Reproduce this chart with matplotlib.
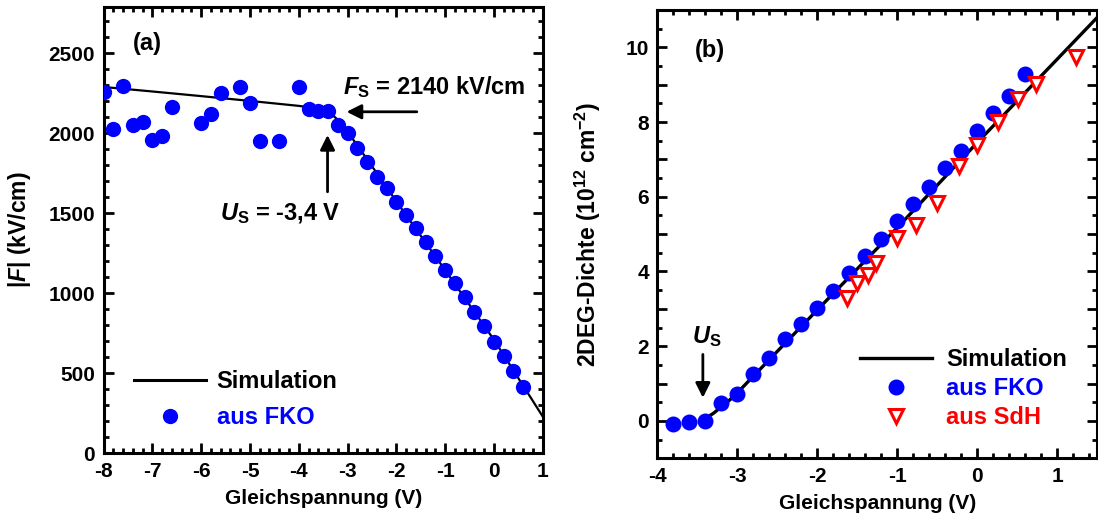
import matplotlib
matplotlib.use("Agg")
import matplotlib.pyplot as plt
from matplotlib.ticker import MultipleLocator, FuncFormatter
from matplotlib.lines import Line2D

plt.rcParams.update({
    "font.family": ["Liberation Sans", "DejaVu Sans"],
    "font.weight": "bold",
    "axes.labelweight": "bold",
    "axes.unicode_minus": False,
    "mathtext.fontset": "custom",
    "mathtext.rm": "Liberation Sans:bold",
    "mathtext.bf": "Liberation Sans:bold",
    "mathtext.it": "Liberation Sans:italic:bold",
    "mathtext.default": "regular",
})

# ---- (a) field strength vs. DC bias ----
u_fko_a = [-8.0, -7.8, -7.6, -7.4, -7.2, -7.0, -6.8, -6.6, -6.0, -5.8, -5.6,
           -5.2, -5.0, -4.8, -4.4, -4.0, -3.8, -3.6, -3.4, -3.2, -3.0, -2.8,
           -2.6, -2.4, -2.2, -2.0, -1.8, -1.6, -1.4, -1.2, -1.0, -0.8, -0.6,
           -0.4, -0.2, 0.0, 0.2, 0.4, 0.6]
f_fko_a = [2260, 2025, 2296, 2052, 2073, 1958, 1983, 2163, 2063, 2119, 2254,
           2291, 2188, 1954, 1954, 2288, 2150, 2141, 2141, 2052, 2000, 1906,
           1819, 1729, 1656, 1573, 1489, 1406, 1319, 1233, 1146, 1066, 975,
           885, 796, 698, 608, 516, 413]
u_sim_a = [-8.0, -7.0, -6.0, -5.0, -4.0, -3.6, -3.4, -3.2, -3.0, -2.8, -2.5,
           -2.0, -1.0, 0.0, 0.5, 1.0]
f_sim_a = [2290, 2262, 2233, 2203, 2172, 2155, 2140, 2085, 2010, 1925, 1795,
           1575, 1145, 710, 470, 230]

# ---- (b) 2DEG sheet density vs. DC bias ----
u_fko_b = [-3.8, -3.6, -3.4, -3.2, -3.0, -2.8, -2.6, -2.4, -2.2, -2.0, -1.8,
           -1.6, -1.4, -1.2, -1.0, -0.8, -0.6, -0.4, -0.2, 0.0, 0.2, 0.4, 0.6]
n_fko_b = [-0.09, -0.04, 0.0, 0.47, 0.73, 1.26, 1.69, 2.20, 2.60, 3.02, 3.49,
           3.96, 4.42, 4.87, 5.36, 5.80, 6.25, 6.76, 7.23, 7.76, 8.24, 8.71,
           9.29]
u_sdh_b = [-1.63, -1.50, -1.36, -1.26, -1.0, -0.77, -0.50, -0.23, 0.0, 0.26,
           0.51, 0.74, 1.24]
n_sdh_b = [3.29, 3.69, 3.91, 4.22, 4.90, 5.25, 5.82, 6.82, 7.38, 8.00, 8.61,
           9.01, 9.73]
u_sim_b = [-3.45, -3.3, -3.1, -3.0, -2.0, -1.0, 0.0, 1.5]
n_sim_b = [0.0, 0.2, 0.55, 0.75, 2.97, 5.17, 7.45, 10.8]

BLUE = "#0000ff"
RED = "#ff0000"
FS_TICK = 15
FS_LABEL = 15
FS_YLABEL = 16.5
FS_TEXT = 17

fig = plt.figure(figsize=(10.98, 5.27), dpi=100)
ax1 = fig.add_axes([0.0943, 0.1398, 0.4000, 0.8469])
ax2 = fig.add_axes([0.5986, 0.1304, 0.4007, 0.8507])


def style_axes(ax):
    for s in ax.spines.values():
        s.set_linewidth(2.2)
    ax.tick_params(which="both", direction="in", top=True, right=True,
                   width=2.0, labelsize=FS_TICK, pad=6)
    ax.tick_params(which="major", length=7)
    ax.tick_params(which="minor", length=3.5)
    for lab in ax.get_xticklabels() + ax.get_yticklabels():
        lab.set_fontweight("bold")


# panel (a)
ax1.plot(u_sim_a, f_sim_a, color="black", lw=1.6, zorder=2)
ax1.plot(u_fko_a, f_fko_a, "o", color=BLUE, ms=11, mew=0, zorder=3)
ax1.set_xlim(-8, 1)
ax1.set_ylim(0, 2790)
ax1.xaxis.set_major_locator(MultipleLocator(1))
ax1.xaxis.set_minor_locator(MultipleLocator(0.2))
ax1.yaxis.set_major_locator(MultipleLocator(500))
ax1.yaxis.set_minor_locator(MultipleLocator(100))
style_axes(ax1)
ax1.set_xlabel("Gleichspannung (V)", fontsize=FS_LABEL, labelpad=6)
ax1.set_ylabel(r"|$\mathit{F}$| (kV/cm)", fontsize=FS_YLABEL)
ax1.yaxis.set_label_coords(-0.16, 0.5)

ax1.text(-7.1, 2560, "(a)", fontsize=FS_TEXT, ha="center", va="center")
ax1.text(-1.22, 2290, r"$\mathit{F}_\mathrm{S}$ = 2140 kV/cm",
         fontsize=FS_TEXT, ha="center", va="center")
ax1.annotate("", xy=(-3.02, 2135), xytext=(-1.58, 2135),
             arrowprops=dict(arrowstyle="-|>", color="black", lw=2,
                             mutation_scale=22, shrinkA=0, shrinkB=0))
ax1.annotate("", xy=(-3.41, 1990), xytext=(-3.41, 1635),
             arrowprops=dict(arrowstyle="-|>", color="black", lw=2,
                             mutation_scale=22, shrinkA=0, shrinkB=0))
ax1.text(-4.38, 1496, r"$\mathit{U}_\mathrm{S}$ = -3,4 V", fontsize=FS_TEXT,
         ha="center", va="center")

leg1_handles = [Line2D([], [], color="black", lw=2.2),
                Line2D([], [], ls="none", marker="o", color=BLUE, ms=11, mew=0)]
leg1 = ax1.legend(leg1_handles, ["Simulation", "aus FKO"], loc="center left",
                  bbox_to_anchor=(0.0694, 0.12), frameon=False,
                  fontsize=FS_TEXT, handlelength=3.05, handletextpad=0.45,
                  labelspacing=0.55, borderpad=0, borderaxespad=0,
                  labelcolor=["black", BLUE], numpoints=1)

# panel (b)
ax2.plot(u_sim_b, n_sim_b, color="black", lw=2.4, zorder=2)
ax2.plot(u_fko_b, n_fko_b, "o", color=BLUE, ms=11.5, mew=0, zorder=3)
ax2.plot(u_sdh_b, n_sdh_b, "v", mfc="white", mec=RED, ms=10, mew=2.2,
         zorder=4)
ax2.set_xlim(-4, 1.5)
ax2.set_ylim(-1, 11)
ax2.xaxis.set_major_locator(MultipleLocator(1))
ax2.xaxis.set_minor_locator(MultipleLocator(0.2))
ax2.yaxis.set_major_locator(MultipleLocator(1))
ax2.yaxis.set_minor_locator(MultipleLocator(0.5))
ax2.yaxis.set_major_formatter(
    FuncFormatter(lambda v, p: f"{v:.0f}" if round(v) % 2 == 0 else ""))
style_axes(ax2)
ax2.set_xlabel("Gleichspannung (V)", fontsize=FS_LABEL, labelpad=6)
ax2.set_ylabel(r"2DEG-Dichte (10$^{12}$ cm$^{-2}$)", fontsize=FS_YLABEL)
ax2.yaxis.set_label_coords(-0.123, 0.5)

ax2.text(-3.34, 9.92, "(b)", fontsize=FS_TEXT, ha="center", va="center")
ax2.text(-3.38, 2.26, r"$\mathit{U}_\mathrm{S}$", fontsize=FS_TEXT,
         ha="center", va="center")
ax2.annotate("", xy=(-3.43, 0.62), xytext=(-3.43, 1.78),
             arrowprops=dict(arrowstyle="-|>", color="black", lw=2,
                             mutation_scale=22, shrinkA=0, shrinkB=0))

leg2_handles = [Line2D([], [], color="black", lw=2.4),
                Line2D([], [], ls="none", marker="o", color=BLUE, ms=11.5,
                       mew=0),
                Line2D([], [], ls="none", marker="v", mfc="white", mec=RED,
                       ms=10, mew=2.2)]
leg2 = ax2.legend(leg2_handles, ["Simulation", "aus FKO", "aus SdH"],
                  loc="center left", bbox_to_anchor=(0.4607, 0.1557),
                  frameon=False, fontsize=FS_TEXT, handlelength=3.05,
                  handletextpad=0.6, labelspacing=0.25, borderpad=0,
                  borderaxespad=0, labelcolor=["black", BLUE, RED],
                  numpoints=1)

for leg in (leg1, leg2):
    for t in leg.get_texts():
        t.set_fontweight("bold")

fig.savefig("out.png", dpi=100)
